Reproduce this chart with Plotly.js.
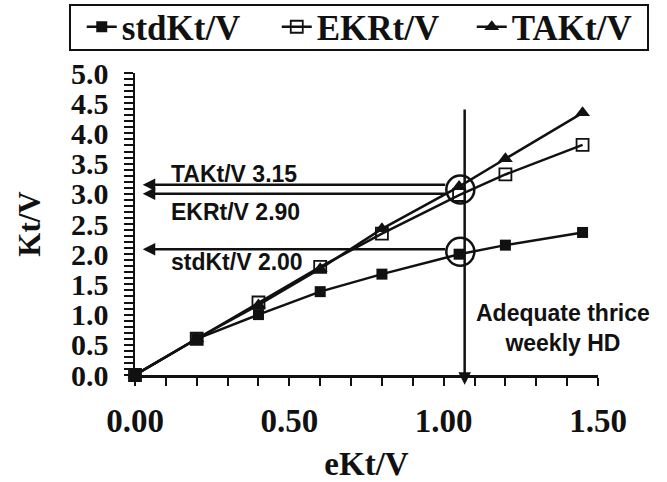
<!DOCTYPE html>
<html>
<head>
<meta charset="utf-8">
<script src="https://cdn.plot.ly/plotly-3.0.1.min.js"></script>
<style>html,body{margin:0;padding:0;background:#fff;}#chart{width:667px;height:482px;}</style>
</head>
<body>
<div id="chart"></div>
<script>
const xVals = [0, 0.2, 0.4, 0.6, 0.8, 1.05, 1.2, 1.45];
const stdKtV = [0, 0.6, 1.0, 1.38, 1.67, 2.0, 2.15, 2.36];
const ekrtV = [0, 0.6, 1.2, 1.79, 2.34, 2.98, 3.32, 3.81];
const taktV = [0, 0.6, 1.16, 1.76, 2.42, 3.12, 3.58, 4.34];
const seriesNames = ['stdKt/V', 'EKRt/V', 'TAKt/V'];
const xTickVals = [0, 0.5, 1.0, 1.5];
const xTickText = ['0.00', '0.50', '1.00', '1.50'];
const yTickVals = [0, 0.5, 1, 1.5, 2, 2.5, 3, 3.5, 4, 4.5, 5];
const yTickText = ['0.0','0.5','1.0','1.5','2.0','2.5','3.0','3.5','4.0','4.5','5.0'];
const arrowLevels = [3.15, 3.0, 2.08];
const arrowLabels = ['TAKt/V 3.15', 'EKRt/V 2.90', 'stdKt/V 2.00'];
const circleCenters = [[1.054, 3.07], [1.054, 2.04]];
const adequateX = 1.068;

const serif = 'Liberation Serif, Times New Roman, serif';
const sans = 'Liberation Sans, Arial, sans-serif';

const traces = [
  {x: xVals, y: stdKtV, name: seriesNames[0], mode: 'lines+markers', cliponaxis: false,
   line: {color: '#111', width: 2.5}, marker: {symbol: 'square', size: 11, color: '#111'}},
  {x: xVals, y: ekrtV, name: seriesNames[1], mode: 'lines+markers', cliponaxis: false,
   line: {color: '#111', width: 2.5}, marker: {symbol: 'square-open', size: 12, color: '#111', line: {width: 1.8, color: '#111'}}},
  {x: xVals, y: taktV, name: seriesNames[2], mode: 'lines+markers', cliponaxis: false,
   line: {color: '#111', width: 2.5}, marker: {symbol: 'triangle-up', size: 13, color: '#111'}}
];

const annotations = [];
arrowLevels.forEach((lv) => {
  annotations.push({x: 0.025, y: lv, ax: 1.01, ay: lv, xref: 'x', yref: 'y', axref: 'x', ayref: 'y',
    showarrow: true, arrowhead: 2, arrowsize: 1, arrowwidth: 2.5, arrowcolor: '#111', text: ''});
});
const labelY = [3.33, 2.70, 1.876];
arrowLabels.forEach((t, i) => {
  annotations.push({x: 0.11, y: labelY[i], xref: 'x', yref: 'y', xanchor: 'left', yanchor: 'middle',
    showarrow: false, text: '<b>' + t + '</b>', font: {family: sans, size: 23, color: '#111'}});
});
annotations.push({x: adequateX, y: -0.16, ax: adequateX, ay: 4.42, xref: 'x', yref: 'y', axref: 'x', ayref: 'y',
  showarrow: true, arrowhead: 2, arrowsize: 1, arrowwidth: 2.5, arrowcolor: '#111', text: ''});
annotations.push({x: 1.385, y: 0.77, xref: 'x', yref: 'y', xanchor: 'center', yanchor: 'middle', showarrow: false,
  text: '<b>Adequate thrice<br>weekly HD</b>', font: {family: sans, size: 23, color: '#111'}});

const shapes = circleCenters.map(c => ({type: 'circle', xref: 'x', yref: 'y', xsizemode: 'pixel', ysizemode: 'pixel',
  xanchor: c[0], yanchor: c[1], x0: -14, x1: 14, y0: -14, y1: 14, line: {color: '#111', width: 2.5}}));
// legend frame
shapes.push({type: 'rect', xref: 'paper', yref: 'paper', x0: -0.1404, x1: 1.108, y0: 1.076, y1: 1.225,
  line: {color: '#111', width: 2}, fillcolor: 'rgba(0,0,0,0)'});

const layout = {
  width: 667, height: 482,
  margin: {l: 135, r: 69, t: 73, b: 107, autoexpand: false},
  paper_bgcolor: '#fff', plot_bgcolor: '#fff',
  showlegend: true,
  legend: {orientation: 'h', x: -0.115, xanchor: 'left', y: 1.25, yanchor: 'top',
    bgcolor: 'rgba(0,0,0,0)', borderwidth: 0, font: {family: serif, size: 35, color: '#111', weight: 'bold'},
    itemwidth: 30, entrywidth: 150, entrywidthmode: 'pixels', tracegroupgap: 0},
  xaxis: {range: [0, 1.5], showgrid: false, zeroline: false, showline: true, linecolor: '#111', linewidth: 2.5,
    tickmode: 'array', tickvals: xTickVals, ticktext: xTickText, ticks: 'outside', ticklen: 8, tickwidth: 2, tickcolor: '#111',
    minor: {dtick: 0.1, ticks: 'outside', ticklen: 8, tickwidth: 2, tickcolor: '#111', showgrid: false},
    ticklabelstandoff: 7,
    tickfont: {family: serif, size: 33, color: '#111', weight: 'bold'},
    title: {text: 'eKt/V', font: {family: serif, size: 33, color: '#111', weight: 'bold'}, standoff: 21}},
  yaxis: {range: [0, 5], showgrid: false, zeroline: false, showline: true, linecolor: '#111', linewidth: 2.5,
    tickmode: 'array', tickvals: yTickVals, ticktext: yTickText, ticks: 'outside', ticklen: 9, tickwidth: 2, tickcolor: '#111',
    minor: {dtick: 0.1, ticks: 'outside', ticklen: 9, tickwidth: 2, tickcolor: '#111', showgrid: false},
    ticklabelstandoff: 9,
    tickfont: {family: serif, size: 30, color: '#111', weight: 'bold'},
    title: {text: 'Kt/V', font: {family: serif, size: 31, color: '#111', weight: 'bold'}, standoff: 21}},
  annotations: annotations,
  shapes: shapes
};

Plotly.newPlot('chart', traces, layout, {displayModeBar: false, staticPlot: true});
</script>
</body>
</html>
